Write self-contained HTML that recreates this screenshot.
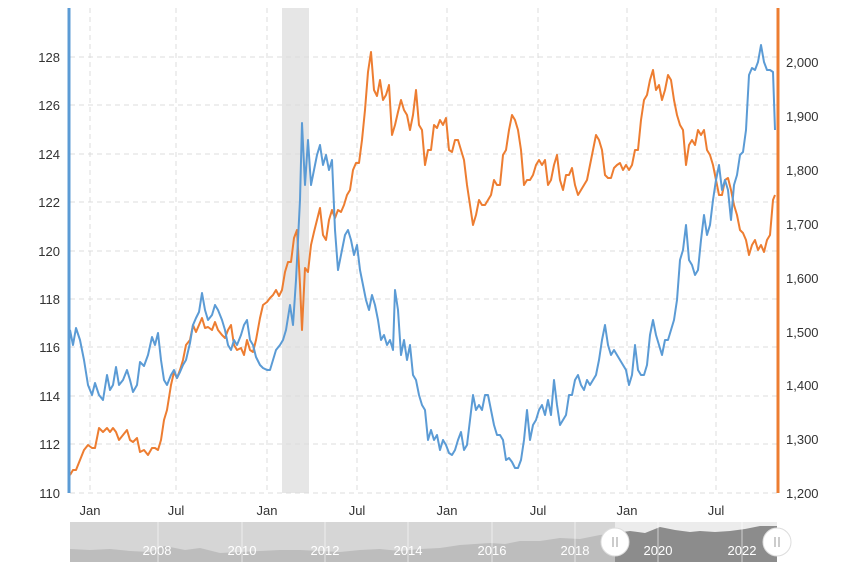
<!DOCTYPE html>
<html><head><style>
body{margin:0;background:#fff;}
svg{display:block;font-family:"Liberation Sans",Verdana,sans-serif;}
</style></head><body>
<svg width="853" height="570" viewBox="0 0 853 570">
<rect width="853" height="570" fill="#fff"/>
<rect x="282" y="8" width="27" height="485" fill="#e6e6e6"/>
<g stroke="#dcdcdc" stroke-dasharray="5,4" stroke-width="1">
<line x1="70" x2="777" y1="57" y2="57"/><line x1="70" x2="777" y1="105" y2="105"/><line x1="70" x2="777" y1="154" y2="154"/><line x1="70" x2="777" y1="202" y2="202"/><line x1="70" x2="777" y1="251" y2="251"/><line x1="70" x2="777" y1="299" y2="299"/><line x1="70" x2="777" y1="347" y2="347"/><line x1="70" x2="777" y1="396" y2="396"/><line x1="70" x2="777" y1="444" y2="444"/><line x1="70" x2="777" y1="493" y2="493"/>
<line y1="8" y2="493" x1="90" x2="90"/><line y1="8" y2="493" x1="176" x2="176"/><line y1="8" y2="493" x1="267" x2="267"/><line y1="8" y2="493" x1="357" x2="357"/><line y1="8" y2="493" x1="447" x2="447"/><line y1="8" y2="493" x1="538" x2="538"/><line y1="8" y2="493" x1="627" x2="627"/><line y1="8" y2="493" x1="716" x2="716"/>
</g>
<polyline fill="none" stroke="#ed7d31" stroke-width="2" stroke-linejoin="round" points="70,475 73,470 76,470 80,460 84,450 88,445 92,448 95,448 99,428 103,432 107,428 110,432 113,428 116,432 119,440 123,435 127,430 130,440 133,442 137,438 140,452 144,450 148,455 152,448 155,448 158,450 161,440 164,420 167,410 171,385 174,372 177,378 180,370 183,360 186,345 190,340 193,325 196,332 199,325 202,318 205,328 208,327 212,330 215,322 218,330 222,335 225,338 228,330 231,325 234,345 237,350 241,348 244,355 247,340 250,350 253,352 256,340 260,318 263,305 267,302 270,298 273,295 276,290 279,296 282,290 285,272 288,262 291,262 294,238 297,230 300,285 302,330 305,268 308,272 311,245 314,232 317,220 320,208 323,235 326,240 329,220 332,210 335,218 338,210 341,212 344,205 347,195 350,190 353,170 356,163 359,163 362,140 365,110 368,72 371,52 374,90 377,96 380,80 383,100 386,95 389,85 392,135 395,125 398,112 401,100 404,110 407,115 410,130 413,115 416,90 419,125 422,130 425,165 428,150 431,150 434,125 437,128 440,120 443,125 446,118 449,150 452,152 455,140 458,140 461,150 464,160 467,185 470,205 473,225 476,215 479,200 482,205 485,205 488,200 491,195 494,180 497,185 500,185 503,155 506,150 509,130 512,115 515,120 518,130 521,150 524,185 527,180 530,180 533,175 536,165 539,160 542,165 545,160 548,185 551,180 554,165 557,155 560,180 563,190 566,175 569,175 572,168 575,185 578,195 581,190 584,185 587,180 590,165 593,150 596,135 599,140 602,150 605,175 608,178 611,178 614,168 617,165 620,163 623,170 626,165 629,170 632,165 635,150 638,150 641,120 644,100 647,95 650,80 653,70 656,90 659,85 662,100 665,90 668,75 671,80 674,100 677,115 680,125 683,130 686,165 689,145 692,140 695,145 698,130 701,135 704,130 707,150 710,155 713,165 716,180 719,195 722,195 725,180 728,178 731,190 734,205 737,215 740,230 743,233 746,240 749,255 752,245 755,240 758,250 761,245 764,252 767,240 770,235 773,200 775,195"/>
<polyline fill="none" stroke="#5b9bd5" stroke-width="2" stroke-linejoin="round" points="70,330 73,345 76,328 80,340 84,360 88,385 92,395 95,383 99,395 103,400 107,375 110,390 113,385 116,367 119,385 123,380 127,370 130,380 133,392 137,385 140,362 144,366 148,355 152,337 155,345 158,333 161,360 164,380 167,385 171,375 174,370 177,378 180,372 183,365 186,360 190,343 193,325 196,318 199,312 202,293 205,310 208,320 212,315 215,305 218,310 222,320 225,330 228,345 231,350 234,340 237,345 241,335 244,325 247,320 250,340 253,345 256,357 260,365 263,368 267,370 270,370 273,360 276,350 280,345 283,340 286,330 290,305 293,325 296,280 300,200 302,123 305,185 308,140 311,185 314,170 317,155 320,145 323,165 326,155 329,170 332,160 335,230 338,270 342,250 345,235 348,230 351,240 354,255 357,245 360,270 363,285 366,300 369,310 372,295 375,305 378,320 381,340 384,335 387,345 390,340 393,350 395,290 398,310 401,355 404,340 407,360 410,345 413,375 416,380 419,395 422,405 425,410 428,440 431,430 434,440 437,435 440,450 443,440 446,445 449,453 452,455 455,450 458,440 461,432 464,450 467,445 470,420 473,395 476,410 479,405 482,410 485,395 488,395 491,410 494,425 497,435 500,435 503,440 506,460 509,458 512,462 515,468 518,468 521,460 524,440 527,410 530,440 533,425 536,420 539,410 542,405 545,415 548,400 551,415 554,380 557,405 560,425 563,420 566,415 569,395 572,395 575,380 578,375 581,385 584,390 587,380 590,385 593,380 596,375 599,360 602,340 605,325 608,345 611,355 614,350 617,355 620,360 623,365 626,370 629,385 632,375 635,345 638,370 641,375 644,375 647,365 650,335 653,320 656,335 659,345 662,355 665,340 668,340 671,330 674,320 677,300 680,260 683,250 686,225 689,260 692,265 695,275 698,270 701,240 704,215 707,235 710,225 713,200 716,180 719,165 722,190 725,180 728,190 731,220 734,185 737,175 740,155 743,152 746,130 749,75 752,68 755,70 758,62 761,45 764,62 767,70 770,70 773,72 775,130"/>
<line x1="69" x2="69" y1="8" y2="493" stroke="#5b9bd5" stroke-width="3"/>
<line x1="778" x2="778" y1="8" y2="493" stroke="#ed7d31" stroke-width="3"/>
<g font-size="13" fill="#333" text-anchor="end">
<text x="60" y="62">128</text><text x="60" y="110">126</text><text x="60" y="159">124</text><text x="60" y="207">122</text><text x="60" y="256">120</text><text x="60" y="304">118</text><text x="60" y="352">116</text><text x="60" y="401">114</text><text x="60" y="449">112</text><text x="60" y="498">110</text>
</g>
<g font-size="13" fill="#333" text-anchor="start">
<text x="786" y="67">2,000</text><text x="786" y="121">1,900</text><text x="786" y="175">1,800</text><text x="786" y="229">1,700</text><text x="786" y="283">1,600</text><text x="786" y="337">1,500</text><text x="786" y="390">1,400</text><text x="786" y="444">1,300</text><text x="786" y="498">1,200</text>
</g>
<g font-size="13" fill="#333" text-anchor="middle">
<text x="90" y="515">Jan</text><text x="176" y="515">Jul</text><text x="267" y="515">Jan</text><text x="357" y="515">Jul</text><text x="447" y="515">Jan</text><text x="538" y="515">Jul</text><text x="627" y="515">Jan</text><text x="716" y="515">Jul</text>
</g>
<rect x="70" y="522" width="707" height="40" fill="#d6d6d6"/>
<rect x="615" y="522" width="162" height="40" fill="#ececec"/>
<path d="M70,549 L90,550 110,549 130,551 150,552 165,546 175,548 185,550 200,548 220,553 240,552 260,551 280,550 300,550 320,551 340,552 360,550 380,549 400,551 420,549 440,548 460,545 475,544 490,543 505,544 520,541 540,541 560,538 580,539 600,535 615,533 L615,562 70,562Z" fill="#bdbdbd"/>
<path d="M615,533 630,531 645,533 660,527 675,530 690,532 700,531 715,532 730,531 745,529 760,526 777,526 L777,562 615,562Z" fill="#8c8c8c"/>
<g stroke="#fff" stroke-width="1" opacity="0.6"><line x1="158" x2="158" y1="522" y2="562"/><line x1="242" x2="242" y1="522" y2="562"/><line x1="325" x2="325" y1="522" y2="562"/><line x1="408" x2="408" y1="522" y2="562"/><line x1="492" x2="492" y1="522" y2="562"/><line x1="575" x2="575" y1="522" y2="562"/><line x1="658" x2="658" y1="522" y2="562"/><line x1="742" x2="742" y1="522" y2="562"/></g>
<g font-size="13" fill="#fff" text-anchor="middle">
<text x="157" y="555">2008</text><text x="242" y="555">2010</text><text x="325" y="555">2012</text><text x="408" y="555">2014</text><text x="492" y="555">2016</text><text x="575" y="555">2018</text><text x="658" y="555">2020</text><text x="742" y="555">2022</text>
</g>
<g>
<circle cx="615" cy="542" r="14" fill="#fff" stroke="#ddd"/><line x1="613" x2="613" y1="537" y2="547" stroke="#999"/><line x1="617" x2="617" y1="537" y2="547" stroke="#999"/>
<circle cx="777" cy="542" r="14" fill="#fff" stroke="#ddd"/><line x1="775" x2="775" y1="537" y2="547" stroke="#999"/><line x1="779" x2="779" y1="537" y2="547" stroke="#999"/>
</g>
</svg>
</body></html>
